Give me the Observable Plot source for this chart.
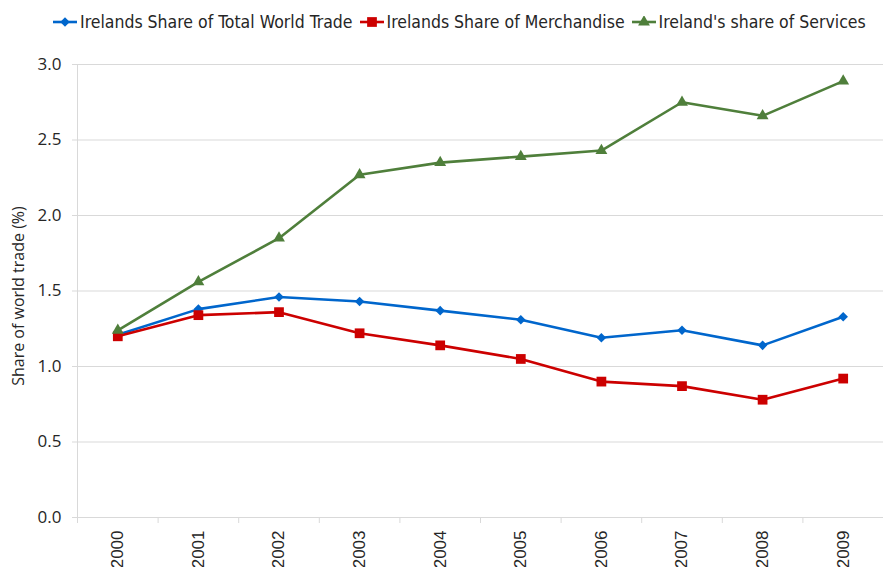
<!DOCTYPE html>
<html>
<head>
<meta charset="utf-8">
<script src="https://cdn.jsdelivr.net/npm/d3@7"></script>
<script src="https://cdn.jsdelivr.net/npm/@observablehq/plot@0.6"></script>
<style>
  html, body { margin: 0; padding: 0; background: #fff; }
  #wrap { width: 883px; height: 567px; position: relative; overflow: hidden; }
  #legend { position: absolute; left: 52px; top: 10px; height: 24px; display: flex; align-items: center; gap: 6px;
            font-family: "DejaVu Sans Condensed", "DejaVu Sans", sans-serif; font-stretch: condensed; font-size: 17.5px; color: #262626; white-space: nowrap; }
  #legend .item { display: flex; align-items: center; gap: 2px; }
  #chart { position: absolute; left: 0; top: 40px; }
  #chart svg text { fill: #262626; }
</style>
</head>
<body>
<div id="wrap">
  <div id="legend"></div>
  <div id="chart"></div>
</div>
<script>
const years = ["2000","2001","2002","2003","2004","2005","2006","2007","2008","2009"];
const seriesNames = ["Irelands Share of Total World Trade", "Irelands Share of Merchandise", "Ireland's share of Services"];
const totalTrade  = [1.21, 1.38, 1.46, 1.43, 1.37, 1.31, 1.19, 1.24, 1.14, 1.33];
const merchandise = [1.20, 1.34, 1.36, 1.22, 1.14, 1.05, 0.90, 0.87, 0.78, 0.92];
const services    = [1.24, 1.56, 1.85, 2.27, 2.35, 2.39, 2.43, 2.75, 2.66, 2.89];
const yTicks = [0, 0.5, 1.0, 1.5, 2.0, 2.5, 3.0];
const yTitle = "Share of world trade (%)";
const colors = ["#0066CC", "#CC0000", "#4F7F3B"];

const seriesValues = [totalTrade, merchandise, services];
const rows = [];
seriesValues.forEach((vals, s) => vals.forEach((v, i) => rows.push({i, year: years[i], value: v, series: seriesNames[s]})));
const boundaries = d3.range(years.length + 1).map(k => k - 0.5);

const diamond = d3.symbolDiamond2 || "diamond";
const symbols = [diamond, "square", "triangle"];
const radii = [4.3, 5.5, 4.4];

const marks = [
  Plot.ruleY(yTicks, {stroke: "#d9d9d9", strokeWidth: 1}),
  Plot.ruleX([boundaries[0]], {stroke: "#d9d9d9", strokeWidth: 1, y1: 0, y2: 3}),
  Plot.text(years, {x: (d, i) => i, y: 0, text: d => d, rotate: -90, textAnchor: "end", dy: 13,
                    fontSize: 17, fontFamily: "Liberation Sans, Arial, sans-serif"}),
  Plot.text([yTitle], {frameAnchor: "left", text: d => d, rotate: -90, textAnchor: "middle", dx: -59, dy: 5,
                       fontSize: 16, fontFamily: "Open Sans, sans-serif"})
];
seriesNames.forEach((name, s) => {
  const data = rows.filter(r => r.series === name);
  marks.push(Plot.line(data, {x: "i", y: "value", stroke: colors[s], strokeWidth: 2.6}));
  marks.push(Plot.dot(data, {x: "i", y: "value", symbol: symbols[s], fill: colors[s], r: radii[s], stroke: "none"}));
});

const chart = Plot.plot({
  width: 883,
  height: 527,
  marginTop: 24,
  marginBottom: 50,
  marginLeft: 77,
  marginRight: 0,
  style: {color: "#d9d9d9", fontFamily: "Open Sans, sans-serif", fontSize: "17px", background: "white", overflow: "visible"},
  x: {domain: [boundaries[0], boundaries[boundaries.length - 1]], ticks: boundaries, tickFormat: () => "", tickSize: 6, label: null},
  y: {domain: [0, 3], ticks: yTicks, tickFormat: d3.format(".1f"), tickSize: 5, tickPadding: 11, label: null},
  marks
});
document.getElementById("chart").appendChild(chart);

// legend
const legend = document.getElementById("legend");
seriesNames.forEach((name, s) => {
  const item = document.createElement("div");
  item.className = "item";
  const sw = d3.create("svg").attr("width", 26).attr("height", 12);
  sw.append("line").attr("x1", 1).attr("x2", 25).attr("y1", 6).attr("y2", 6).attr("stroke", colors[s]).attr("stroke-width", 2.6);
  const sym = typeof symbols[s] === "string" ? ({square: d3.symbolSquare, triangle: d3.symbolTriangle, diamond: d3.symbolDiamond})[symbols[s]] : symbols[s];
  sw.append("path").attr("transform", "translate(13,6)").attr("d", d3.symbol(sym, Math.PI * radii[s] * radii[s])()).attr("fill", colors[s]);
  item.appendChild(sw.node());
  const t = document.createElement("span");
  t.textContent = name;
  item.appendChild(t);
  legend.appendChild(item);
});
</script>
</body>
</html>
